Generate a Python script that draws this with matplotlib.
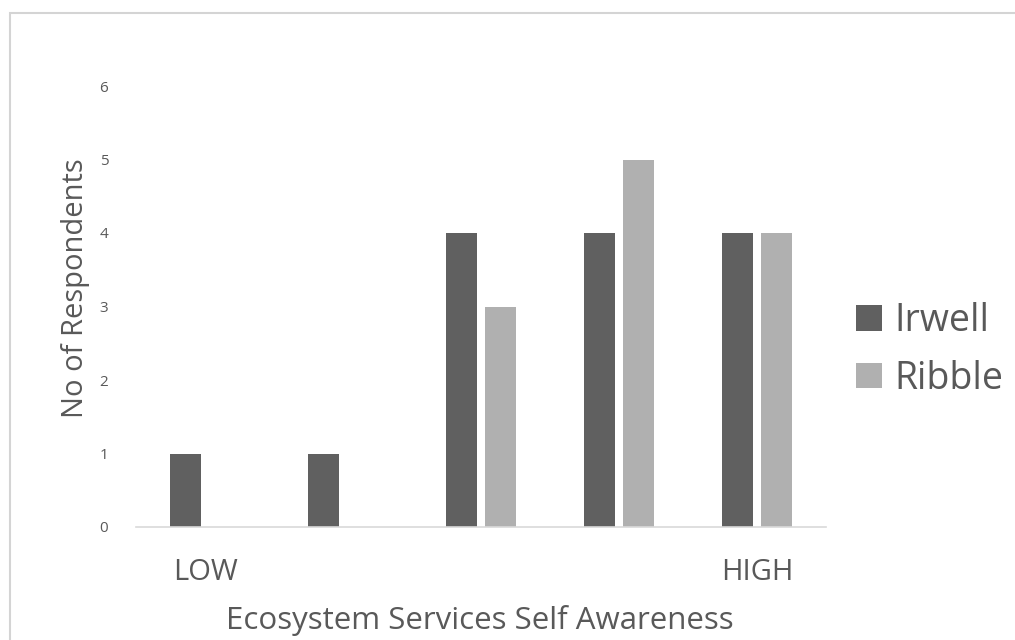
import matplotlib
matplotlib.use("Agg")
import matplotlib.pyplot as plt
from matplotlib.patches import Rectangle, Patch
import numpy as np

plt.rcParams['font.family'] = ['Open Sans', 'DejaVu Sans']

categories = ["LOW", "", "", "", "HIGH"]
irwell = [1, 1, 4, 4, 4]
ribble = [0, 0, 3, 5, 4]
series_names = ["Irwell", "Ribble"]

dark = "#606060"
light = "#b0b0b0"
text_col = "#595959"

fig = plt.figure(figsize=(10.15, 6.4), dpi=100)
fig.patch.set_facecolor("white")

# thin grey frame around the chart area
fig.add_artist(Rectangle((10 / 1015, -0.1), 1.2, (640 - 13) / 640 + 0.1,
                         transform=fig.transFigure, fill=False,
                         edgecolor="#d4d4d4", linewidth=1.5))

ax = fig.add_axes([136 / 1015, 113 / 640, 690 / 1015, 441 / 640])
x = np.arange(len(categories))
w = 0.22
off = 0.142
ax.bar(x - off, irwell, w, color=dark, label=series_names[0])
ax.bar(x + off, ribble, w, color=light, label=series_names[1])

ax.set_xlim(-0.5, len(categories) - 0.5)
ax.set_ylim(0, 6)
ax.set_yticks(range(7))
ax.tick_params(axis="y", length=0, pad=20, labelsize=11, labelcolor=text_col)
ax.set_xticks(x)
ax.set_xticklabels(categories)
ax.tick_params(axis="x", length=0, pad=22, labelsize=21, labelcolor=text_col)
for s in ["top", "right", "left"]:
    ax.spines[s].set_visible(False)
ax.spines["bottom"].set_color("#d9d9d9")
ax.spines["bottom"].set_linewidth(1.2)

fig.text(480 / 1015, 1 - 620 / 640, "Ecosystem Services Self Awareness",
         ha="center", va="center", fontsize=22.5, color=text_col)
fig.text(75 / 1015, 1 - 288 / 640, "No of Respondents", rotation=90,
         ha="center", va="center", fontsize=21, color=text_col)

handles = [Patch(facecolor=dark), Patch(facecolor=light)]
fig.legend(handles, series_names, loc="center left",
           bbox_to_anchor=(856 / 1015, 1 - 350 / 640), frameon=False,
           fontsize=27, handlelength=0.68, handleheight=0.68,
           handletextpad=0.35, labelspacing=0.52, borderpad=0,
           borderaxespad=0, labelcolor=text_col)

fig.savefig("out.png", dpi=100, facecolor="white")
